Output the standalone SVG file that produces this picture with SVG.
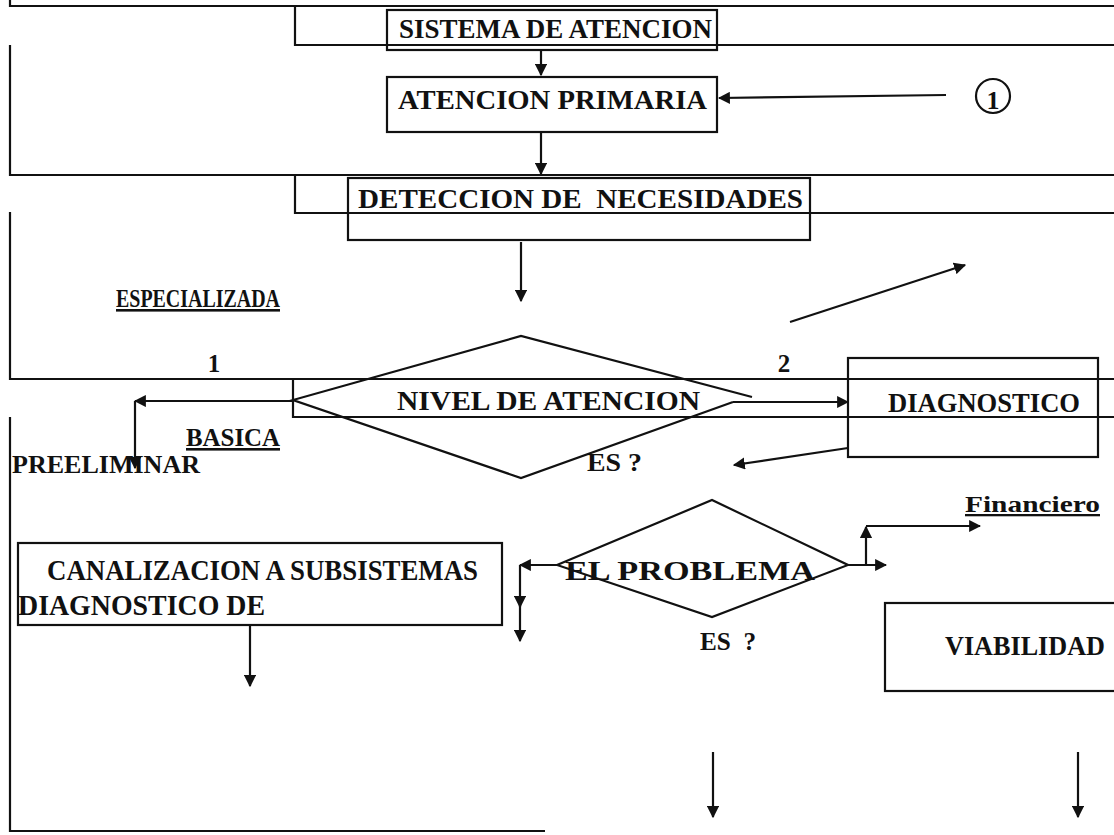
<svg xmlns="http://www.w3.org/2000/svg" width="1114" height="835" viewBox="0 0 1114 835">
<defs>
<style>
.l{stroke:#111;stroke-width:2.2;fill:none}
.t{font-family:"Liberation Serif","Times New Roman",serif;font-weight:bold;fill:#111}
.u{text-decoration:underline}
</style>
<marker id="ah" viewBox="0 0 10 10" refX="9" refY="5" markerWidth="5.5" markerHeight="5.5" orient="auto"><path d="M0,0 L10,5 L0,10 z" fill="#111"/></marker>
</defs>
<rect width="1114" height="835" fill="#fff"/>
<g id="frame">
<path class="l" d="M10,0 V6 H1114"/>
<path class="l" d="M295,6 V45 H1114"/>
<path class="l" d="M10,45 V175 H1114"/>
<path class="l" d="M295,175 V213 H1114"/>
<path class="l" d="M10,212 V379 H1114"/>
<path class="l" d="M293,379 V417 H1114"/>
<path class="l" d="M10,417 V831 H545"/>
</g>
<g id="sistema"><rect class="l" x="387" y="10" width="330" height="40"/><text class="t" x="399" y="38" font-size="28" textLength="313" lengthAdjust="spacingAndGlyphs">SISTEMA DE ATENCION</text></g>
<g id="primaria"><rect class="l" x="387" y="77" width="330" height="55"/><text class="t" x="398" y="109" font-size="28" textLength="309" lengthAdjust="spacingAndGlyphs">ATENCION PRIMARIA</text></g>
<g id="circulo"><circle class="l" cx="993" cy="96" r="17"/><text class="t" x="993" y="109" font-size="26" text-anchor="middle">1</text></g>
<g id="deteccion"><rect class="l" x="348" y="178" width="462" height="62"/><text class="t" x="358" y="208" font-size="28" textLength="445" lengthAdjust="spacingAndGlyphs" xml:space="preserve">DETECCION DE  NECESIDADES</text></g>
<g id="especializada"><text class="t u" x="116" y="307" font-size="26" textLength="164" lengthAdjust="spacingAndGlyphs">ESPECIALIZADA</text></g>
<g id="num1"><text class="t" x="214" y="372" font-size="25" text-anchor="middle">1</text></g>
<g id="num2"><text class="t" x="784" y="372" font-size="25" text-anchor="middle">2</text></g>
<g id="nivel"><path class="l" d="M752,397 L521,336 L293,400 L521,478 L733,402"/><text class="t" x="397" y="410" font-size="28" textLength="303" lengthAdjust="spacingAndGlyphs">NIVEL DE ATENCION</text><text class="t" x="587" y="471" font-size="25" textLength="55" lengthAdjust="spacingAndGlyphs">ES ?</text></g>
<g id="diagnostico"><rect class="l" x="848" y="358" width="250" height="99"/><text class="t" x="888" y="412" font-size="28" textLength="192" lengthAdjust="spacingAndGlyphs">DIAGNOSTICO</text></g>
<g id="basica"><text class="t u" x="186" y="446" font-size="26" textLength="94" lengthAdjust="spacingAndGlyphs">BASICA</text></g>
<g id="preeliminar"><text class="t" x="12" y="473" font-size="26" textLength="188" lengthAdjust="spacingAndGlyphs">PREELIMINAR</text></g>
<g id="canalizacion"><rect class="l" x="18" y="543" width="484" height="82"/><text class="t" x="47" y="580" font-size="29" textLength="431" lengthAdjust="spacingAndGlyphs">CANALIZACION A SUBSISTEMAS</text><text class="t" x="18" y="615" font-size="29" textLength="247" lengthAdjust="spacingAndGlyphs">DIAGNOSTICO DE</text></g>
<g id="problema"><path class="l" d="M557,565 L712,500 L848,565 L712,617 Z"/><text class="t" x="565" y="580" font-size="28" textLength="250" lengthAdjust="spacingAndGlyphs">EL PROBLEMA</text><text class="t" x="700" y="650" font-size="25" textLength="56" lengthAdjust="spacingAndGlyphs" xml:space="preserve">ES  ?</text></g>
<g id="financiero"><text class="t u" x="965" y="512" font-size="23" textLength="135" lengthAdjust="spacingAndGlyphs">Financiero</text></g>
<g id="viabilidad"><rect class="l" x="885" y="603" width="240" height="88"/><text class="t" x="945" y="655" font-size="28" textLength="160" lengthAdjust="spacingAndGlyphs">VIABILIDAD</text></g>
<g id="connectors">
<path class="l" d="M541,50 V75" marker-end="url(#ah)"/>
<path class="l" d="M946,95 L719,98" marker-end="url(#ah)"/>
<path class="l" d="M541,132 V174" marker-end="url(#ah)"/>
<path class="l" d="M521,242 V301" marker-end="url(#ah)"/>
<path class="l" d="M790,322 L965,265" marker-end="url(#ah)"/>
<path class="l" d="M293,401 H135" marker-end="url(#ah)"/>
<path class="l" d="M135,401 V468" marker-end="url(#ah)"/>
<path class="l" d="M733,402 H848" marker-end="url(#ah)"/>
<path class="l" d="M848,448 L734,465" marker-end="url(#ah)"/>
<path class="l" d="M250,625 V686" marker-end="url(#ah)"/>
<path class="l" d="M557,565 H520" marker-end="url(#ah)"/>
<path class="l" d="M520,565 V607" marker-end="url(#ah)"/>
<path class="l" d="M520,600 V641" marker-end="url(#ah)"/>
<path class="l" d="M848,565 H886" marker-end="url(#ah)"/>
<path class="l" d="M866,565 V527" marker-end="url(#ah)"/>
<path class="l" d="M866,526 H980" marker-end="url(#ah)"/>
<path class="l" d="M713,752 V817" marker-end="url(#ah)"/>
<path class="l" d="M1078,752 V817" marker-end="url(#ah)"/>
</g>
</svg>
